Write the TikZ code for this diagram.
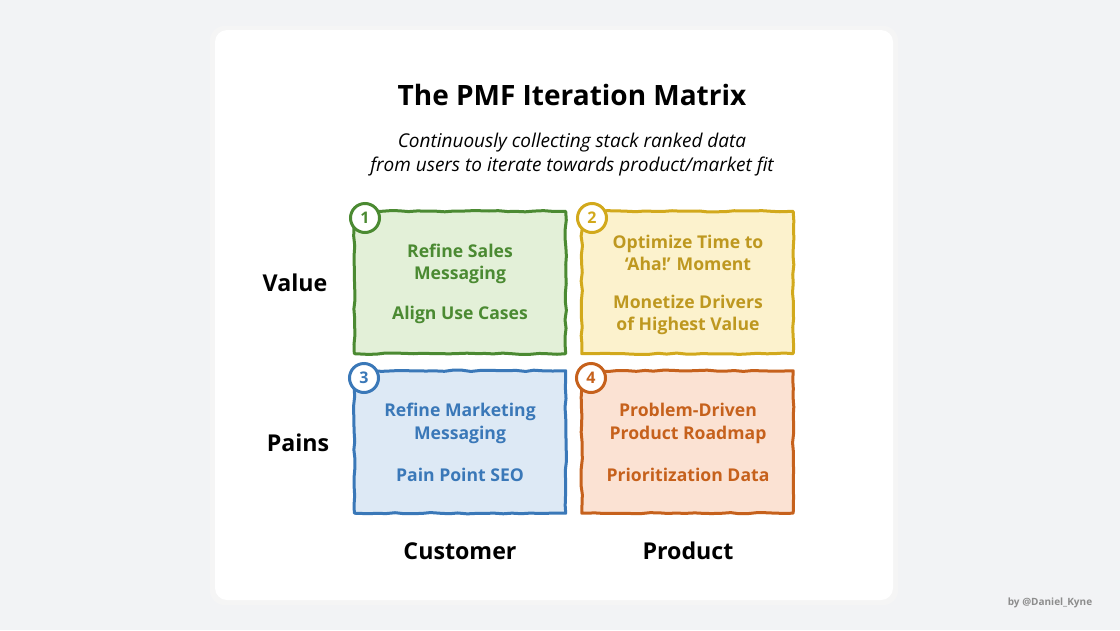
\documentclass[tikz,border=0pt]{standalone}
\usepackage{fontspec}
\setmainfont{Open Sans}
\usetikzlibrary{decorations.pathmorphing}
\definecolor{bg}{HTML}{F2F3F5}
\definecolor{gline}{HTML}{4B8A32}\definecolor{gfill}{HTML}{E3F0D8}
\definecolor{yline}{HTML}{D2A91C}\definecolor{yfill}{HTML}{FCF2CD}\definecolor{ytext}{HTML}{BE9820}
\definecolor{bline}{HTML}{3A78B8}\definecolor{bfill}{HTML}{DDE9F5}
\definecolor{oline}{HTML}{C6611C}\definecolor{ofill}{HTML}{FBE2D3}
\begin{document}
\begin{tikzpicture}[x=1pt,y=-1pt,
  wobble/.style={decorate,decoration={random steps,segment length=9pt,amplitude=0.7pt},line join=round},
  quad/.style={minimum width=211pt,minimum height=142pt,inner sep=0pt},
  qline/.style={draw=#1line,fill=#1fill,line width=3pt,wobble},
  numc/.style={circle,draw=#1line,line width=3pt,fill=white,minimum size=29pt,inner sep=0pt,font=\fontsize{16}{16}\selectfont\bfseries},
  itemtxt/.style={align=center,font=\fontsize{17.6}{22.5}\selectfont\bfseries},
  axis/.style={font=\fontsize{23.2}{23}\selectfont\bfseries}]
\pgfmathsetseed{7}
\useasboundingbox[fill=bg] (0,0) rectangle (1120,630);
% card
\fill[black!8,rounded corners=14pt] (212,28) rectangle (896,603);
\fill[black!4,rounded corners=14pt] (210,26) rectangle (898,605);
\node[fill=white,rounded corners=12pt,minimum width=678pt,minimum height=570pt,inner sep=0pt] (card) at (554,315) {};
% title
\node[font=\fontsize{28}{28}\selectfont\bfseries] (title) at (572,95) {The PMF Iteration Matrix};
\node[align=center,font=\fontsize{19}{24}\selectfont\itshape] (sub) at (572,155) {Continuously collecting stack ranked data\\from users to iterate towards product/market fit};
% quadrants
\node[quad] (q1) at (460,282.5) {};
\node[quad] (q2) at (687.5,282.5) {};
\node[quad] (q3) at (460,442) {};
\node[quad] (q4) at (687.5,442) {};
\draw[qline=g] (q1.north west) -- (q1.north east) -- (q1.south east) -- (q1.south west) -- cycle;
\draw[qline=y] (q2.north west) -- (q2.north east) -- (q2.south east) -- (q2.south west) -- cycle;
\draw[qline=b] (q3.north west) -- (q3.north east) -- (q3.south east) -- (q3.south west) -- cycle;
\draw[qline=o] (q4.north west) -- (q4.north east) -- (q4.south east) -- (q4.south west) -- cycle;
% numbers
\node[numc=g,text=gline] (n1) at (365,218) {1};
\node[numc=y,text=yline] (n2) at (592,218) {2};
\node[numc=b,text=bline] (n3) at (364,378) {3};
\node[numc=o,text=oline] (n4) at (591,378) {4};
% texts
\node[itemtxt,text=gline] (t1a) at (460,264) {Refine Sales\\Messaging};
\node[itemtxt,text=gline] (t1b) at (460,315) {Align Use Cases};
\node[itemtxt,text=ytext] (t2a) at (688,253) {Optimize Time to\\`Aha!' Moment};
\node[itemtxt,text=ytext] (t2b) at (688,315) {Monetize Drivers\\of Highest Value};
\node[itemtxt,text=bline] (t3a) at (460,423.5) {Refine Marketing\\Messaging};
\node[itemtxt,text=bline] (t3b) at (460,475) {Pain Point SEO};
\node[itemtxt,text=oline] (t4a) at (688,423.5) {Problem-Driven\\Product Roadmap};
\node[itemtxt,text=oline] (t4b) at (688,475) {Prioritization Data};
% axis labels
\node[axis] (lv) at (295,283) {Value};
\node[axis] (lp) at (298,443) {Pains};
\node[axis] (lc) at (460,551) {Customer};
\node[axis] (lpr) at (688,551) {Product};
\node[font=\fontsize{10}{10}\selectfont\bfseries,text=black!45] (by) at (1050,603) {by @Daniel\_Kyne};
\end{tikzpicture}
\end{document}
